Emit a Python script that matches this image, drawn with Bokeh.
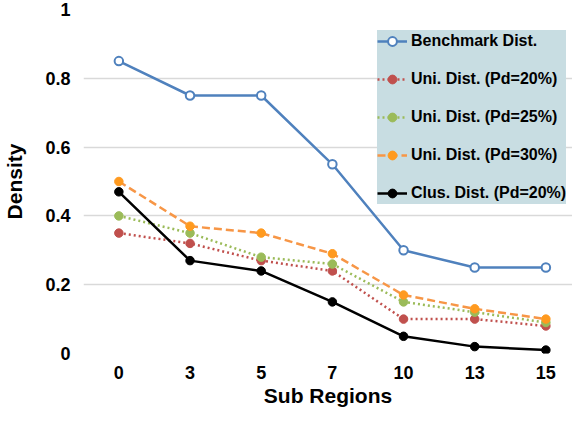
from bokeh.plotting import figure
from bokeh.models import Range1d, FixedTicker, Legend, LegendItem
from bokeh.embed import file_html
from bokeh.resources import INLINE

categories = ["0", "3", "5", "7", "10", "13", "15"]
benchmark = [0.85, 0.75, 0.75, 0.55, 0.30, 0.25, 0.25]
uni20 = [0.35, 0.32, 0.27, 0.24, 0.10, 0.10, 0.08]
uni25 = [0.40, 0.35, 0.28, 0.26, 0.15, 0.12, 0.09]
uni30 = [0.50, 0.37, 0.35, 0.29, 0.17, 0.13, 0.10]
clus20 = [0.47, 0.27, 0.24, 0.15, 0.05, 0.02, 0.01]
y_ticks = [0, 0.2, 0.4, 0.6, 0.8, 1]
y_tick_labels = ["0", "0.2", "0.4", "0.6", "0.8", "1"]

FONT = "Liberation Sans"
xs = list(range(len(categories)))

p = figure(width=572, height=411, output_backend="svg", toolbar_location=None,
           x_range=Range1d(-0.497, 6.374), y_range=Range1d(0, 1),
           min_border_left=78, min_border_right=0, min_border_top=9, min_border_bottom=58)
p.outline_line_color = None
p.background_fill_color = "white"
p.border_fill_color = "white"

p.xgrid.grid_line_color = None
p.ygrid.grid_line_color = "#d9d9d9"
p.ygrid.grid_line_width = 1.3

p.xaxis.ticker = FixedTicker(ticks=xs)
p.xaxis.major_label_overrides = {i: c for i, c in zip(xs, categories)}
p.yaxis.ticker = FixedTicker(ticks=y_ticks)
p.yaxis.major_label_overrides = {t: l for t, l in zip(y_ticks, y_tick_labels)}

for ax in (p.xaxis[0], p.yaxis[0]):
    ax.axis_line_color = None
    ax.major_tick_line_color = None
    ax.minor_tick_line_color = None
    ax.major_tick_out = 0
    ax.major_tick_in = 0
    ax.minor_tick_out = 0
    ax.minor_tick_in = 0
    ax.major_label_text_font = FONT
    ax.major_label_text_font_style = "bold"
    ax.major_label_text_font_size = "18px"
    ax.major_label_text_color = "black"
    ax.axis_label_text_font = FONT
    ax.axis_label_text_font_style = "bold"
    ax.axis_label_text_font_size = "21px"
    ax.axis_label_text_color = "black"

p.xaxis.axis_label = "Sub Regions"
p.yaxis.axis_label = "Density"
p.xaxis.major_label_standoff = 12
p.xaxis.axis_label_standoff = 2
p.yaxis.major_label_standoff = 13
p.yaxis.axis_label_standoff = 16

series = [
    ("Benchmark Dist.", benchmark, "#4f81bd", "solid", "white", "#4f81bd"),
    ("Uni. Dist. (Pd=20%)", uni20, "#c0504d", "2 3", "#c0504d", "#c0504d"),
    ("Uni. Dist. (Pd=25%)", uni25, "#9bbb59", "2 3", "#9bbb59", "#9bbb59"),
    ("Uni. Dist. (Pd=30%)", uni30, "#f79646", "8 4", "#ff9a1f", "#ff9a1f"),
    ("Clus. Dist. (Pd=20%)", clus20, "black", "solid", "black", "black"),
]

items = []
for name, ys, col, dash, fill, mline in series:
    ln = p.line(xs, ys, line_color=col, line_width=2.5, line_dash=dash)
    lw = 2 if name.startswith("Benchmark") else 1
    sc = p.scatter(xs, ys, marker="circle", size=8.5, fill_color=fill,
                   line_color=mline, line_width=lw)
    items.append(LegendItem(label=name, renderers=[ln, sc]))

legend = Legend(items=items, location=(294, 149), margin=0, padding=9,
                spacing=16, glyph_width=30, glyph_height=22, label_height=22,
                label_standoff=4, label_text_font=FONT, label_text_font_style="bold",
                label_text_font_size="16px", label_text_color="black",
                background_fill_color="#c8dde2", background_fill_alpha=1,
                border_line_color=None)
p.add_layout(legend, "center")

open("out.html", "w").write(file_html(p, INLINE))
